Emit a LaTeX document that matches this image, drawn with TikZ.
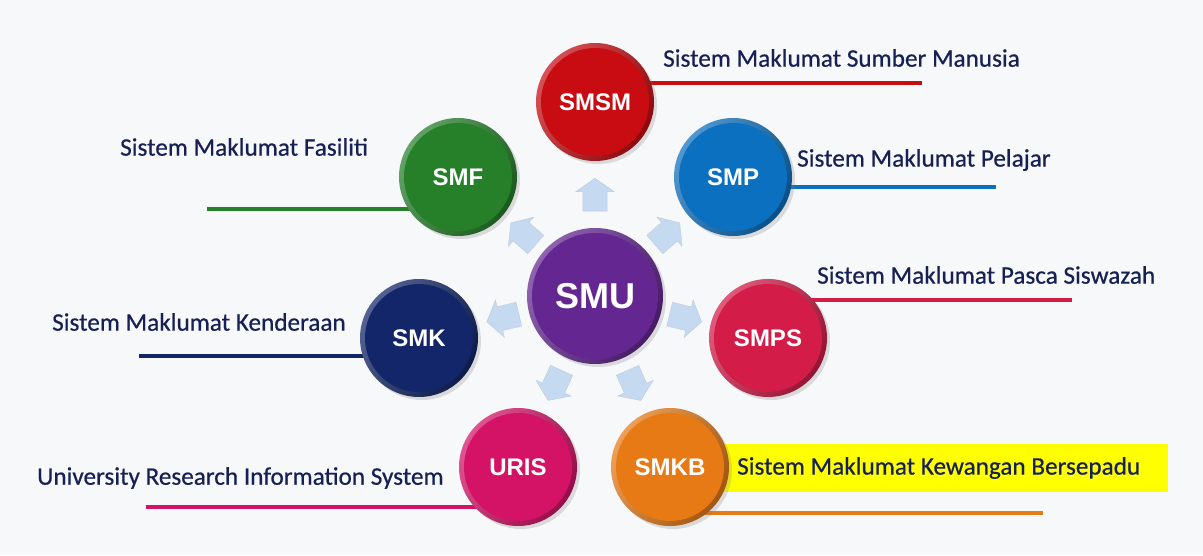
\documentclass[tikz,border=0pt]{standalone}
\usepackage{fontspec}
\setmainfont{Carlito}
\newfontfamily\lblfont{Carlito}[FakeBold=0.6]
\newfontfamily\discfont{Liberation Sans}
\usetikzlibrary{positioning,shapes.arrows,shadows,backgrounds,calc}

\definecolor{bgcol}{RGB}{247,248,250}
\definecolor{labelnavy}{RGB}{22,32,85}
\definecolor{arrowblue}{RGB}{197,217,241}
\definecolor{hilite}{RGB}{255,255,0}
\definecolor{smucol}{RGB}{100,38,145}
\definecolor{smsmcol}{RGB}{200,12,18}
\definecolor{smpcol}{RGB}{12,112,192}
\definecolor{smfcol}{RGB}{38,128,42}
\definecolor{smkcol}{RGB}{18,38,105}
\definecolor{smpscol}{RGB}{212,28,72}
\definecolor{uriscol}{RGB}{212,18,102}
\definecolor{smkbcol}{RGB}{232,122,22}

\tikzset{
    disc/.style={circle, minimum size=118pt, inner sep=0pt, text=white,
        font=\discfont\bfseries\fontsize{24}{28}\selectfont,
        left color=#1!72!white, right color=#1!70!black, shading angle=60,
        path picture={\fill[#1] let \p1=(path picture bounding box.north),
            \p2=(path picture bounding box.center) in (\p2) circle ({\y1-\y2-5pt});},
        drop shadow={shadow xshift=3pt, shadow yshift=-3pt, opacity=0.25}},
    lbl/.style={text=labelnavy, font=\lblfont\fontsize{25.2}{29}\selectfont, inner sep=0pt},
    sysline/.style={line width=4.5pt, draw=#1},
    flowarrow/.style={single arrow, fill=arrowblue, draw=arrowblue!85!gray,
        line width=0.4pt, minimum height=32pt, inner sep=12pt,
        single arrow head extend=7pt, single arrow tip angle=110}
}

\begin{document}
\begin{tikzpicture}[x=1pt, y=1pt]
    \useasboundingbox (0,0) rectangle (1203,555);

    % Centre and the seven systems
    \node[disc=smucol, minimum size=136pt,
        font=\discfont\bfseries\fontsize{36}{40}\selectfont] (smu) at (595,259) {SMU};
    \node[disc=smsmcol] (smsm) at (595,453) {SMSM};
    \node[disc=smpcol] (smp) at (733,378) {SMP};
    \node[disc=smfcol] (smf) at (458,378) {SMF};
    \node[disc=smkcol] (smk) at (419,217) {SMK};
    \node[disc=smpscol] (smps) at (768,217) {SMPS};
    \node[disc=uriscol] (uris) at (518,88) {URIS};
    \node[disc=smkbcol] (smkb) at (670,88) {SMKB};

    % Arrows out of SMU
    \foreach \sys in {smsm,smp,smf,smk,smps,uris,smkb}
        \path let \p1=($(\sys)-(smu)$), \n1={atan2(\y1,\x1)} in
            node[flowarrow, rotate=\n1] (to-\sys) at ($(smu)!0.5!(\sys)$) {};

    % Names
    \node[lbl, anchor=west] (smsm-lbl) at (663,497) {Sistem Maklumat Sumber Manusia};
    \node[lbl, anchor=west] (smp-lbl) at (797,395) {Sistem Maklumat Pelajar};
    \node[lbl, anchor=west] (smf-lbl) at (120,408) {Sistem Maklumat Fasiliti};
    \node[lbl, anchor=west] (smk-lbl) at (52,233) {Sistem Maklumat Kenderaan};
    \node[lbl, anchor=west] (smps-lbl) at (817,280) {Sistem Maklumat Pasca Siswazah};
    \node[lbl, anchor=west] (uris-lbl) at (37,77) {University Research Information System};
    \node[lbl, anchor=west] (smkb-lbl) at (737,87) {Sistem Maklumat Kewangan Bersepadu};

    % Highlight and lines behind the discs
    \begin{scope}[on background layer]
        \fill[bgcol] (0,0) rectangle (1203,555);
        \fill[hilite] ([xshift=-19pt, yshift=-24pt]smkb-lbl.west) rectangle +(450,48);
        \coordinate (smsm-end) at (922,472);
        \coordinate (smp-end) at (996,368);
        \coordinate (smf-end) at (207,346);
        \coordinate (smk-end) at (139,199);
        \coordinate (smps-end) at (1072,255);
        \coordinate (uris-end) at (146,48);
        \coordinate (smkb-end) at (1043,42);
        \draw[sysline=smsmcol] (smsm |- smsm-end) -- (smsm-end);
        \draw[sysline=smpcol] (smp |- smp-end) -- (smp-end);
        \draw[sysline=smfcol] (smf |- smf-end) -- (smf-end);
        \draw[sysline=smkcol] (smk |- smk-end) -- (smk-end);
        \draw[sysline=smpscol] (smps |- smps-end) -- (smps-end);
        \draw[sysline=uriscol] (uris |- uris-end) -- (uris-end);
        \draw[sysline=smkbcol] (smkb |- smkb-end) -- (smkb-end);
    \end{scope}
\end{tikzpicture}
\end{document}
